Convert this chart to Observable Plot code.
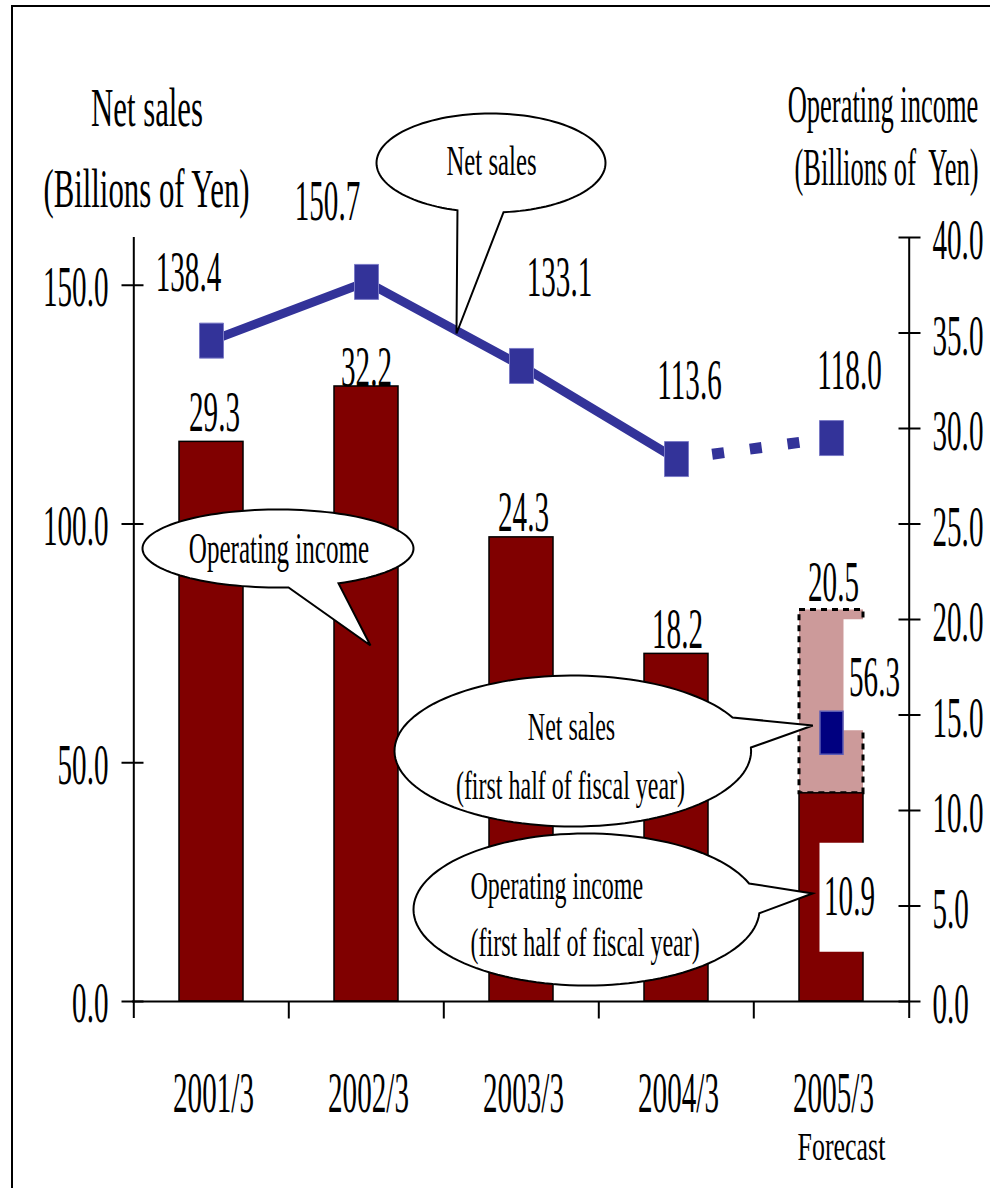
<!DOCTYPE html>
<html><head><meta charset="utf-8">
<script src="https://cdn.jsdelivr.net/npm/d3@7"></script>
<script src="https://cdn.jsdelivr.net/npm/@observablehq/plot@0.6"></script>
<style>
html,body{margin:0;padding:0;background:#fff;overflow:hidden}
#chart{position:absolute;left:0;top:0}
#frame{position:absolute;left:11px;top:5px;width:2000px;height:2000px;border-left:2px solid #000;border-top:2px solid #000;pointer-events:none}
</style></head><body>
<div id="chart"></div><div id="frame"></div>
<script>
// ---------- data ----------
const categories = ["2001/3", "2002/3", "2003/3", "2004/3", "2005/3"];
const netSales = [138.4, 150.7, 133.1, 113.6, 118.0];          // billions of yen (left axis)
const operatingIncome = [29.3, 32.2, 24.3, 18.2, 20.5];        // billions of yen (right axis)
const forecastCategory = "2005/3";
const netSalesFirstHalf = 56.3;
const operatingIncomeFirstHalf = 10.9;
const leftTicks = [0, 50, 100, 150];
const rightTicks = [0, 5, 10, 15, 20, 25, 30, 35, 40];
const leftDomain = [0, 160];
const rightDomain = [0, 40];
const leftTitle = ["Net sales", "(Billions of Yen)"];
const rightTitle = ["Operating income", "(Billions of\u00a0 Yen)"];
const forecastNote = "Forecast";
const bubbleTexts = {
  sales: "Net sales",
  income: "Operating income",
  salesH1: ["Net sales", "(first half of fiscal year)"],
  incomeH1: ["Operating income", "(first half of fiscal year)"]
};

// ---------- layout & style ----------
const W = 990, H = 1188, mL = 132, mR = 81, mT = 237, mB = 187;
const step = (W - mL - mR) / categories.length;
const ratio = leftDomain[1] / rightDomain[1];
const fmt = d3.format(".1f");
const FONT = "'Liberation Serif', 'Times New Roman', serif";
const DARKRED = "#800000", PINK = "#CC9A9A", BLUE = "#333399", NAVY = "#000080";

// font sizes (each size also keys a horizontal condensing factor below)
const FS = {num: 56, titleL: 55.5, titleR: 52, b1: 42, b2: 44, b34: 40, fc: 40.5};
const SQUEEZE = {56: 0.52, 55.5: 0.555, 52: 0.51, 42: 0.59, 44: 0.57, 40: 0.6, 40.5: 0.64};

const salesLabelDx = [-23, -39, 38, 13, 18];
const salesLabelDy = [-68, -80, -88, -78, -67];
const incomeLabelDx = [3, 0, 2, 1, 2];
const incomeLabelDy = [-29, -18, -24, -24, -27];

const rows = categories.map((c, i) => ({cat: c, sales: netSales[i], op: operatingIncome[i], i}));
const actual = rows.filter(d => d.cat !== forecastCategory);
const fc = rows.find(d => d.cat === forecastCategory);

// custom symbols
const sym = draw => ({draw});
const hTick = sym(c => { c.moveTo(-11, 0); c.lineTo(11, 0); });
const vTick = sym(c => { c.moveTo(0, 0); c.lineTo(0, 17); });
const boxSym = (w, h) => sym(c => { c.rect(-w / 2, -h / 2, w, h); });
const bubbleSym = (rx, ry, t0, t1, tx, ty) => sym(c => {
  c.moveTo(tx, ty);
  const n = 120, end = t1 + 2 * Math.PI;
  for (let k = 0; k <= n; k++) {
    const t = t0 + (end - t0) * k / n;
    c.lineTo(rx * Math.cos(t), ry * Math.sin(t));
  }
  c.closePath();
});

const txt = (o) => ({fill: "black", ...o});

const marks = [
  // bars (operating income, scaled onto left axis)
  Plot.barY(actual, {x: "cat", y: d => d.op * ratio, fill: DARKRED, stroke: "black", strokeWidth: 1.5}),
  Plot.barY([fc], {x: "cat", y1: () => operatingIncomeFirstHalf * ratio, y2: d => d.op * ratio,
    fill: PINK, stroke: "black", strokeWidth: 3, strokeDasharray: "6,5"}),
  Plot.barY([fc], {x: "cat", y: () => operatingIncomeFirstHalf * ratio, fill: DARKRED, stroke: "black", strokeWidth: 1.5}),

  // white label backgrounds on forecast bar
  Plot.dot([netSalesFirstHalf], {x: () => forecastCategory, y: d => d, dx: 41, dy: -58,
    symbol: boxSym(58, 111), fill: "white", stroke: "none"}),
  Plot.dot([operatingIncomeFirstHalf], {x: () => forecastCategory, y: d => d * ratio, dx: 29, dy: 104,
    symbol: boxSym(82, 109), fill: "white", stroke: "none"}),

  // axes lines
  Plot.ruleY([0], {stroke: "black", strokeWidth: 2}),
  Plot.ruleX([categories[0]], {x: d => d, dx: -step / 2, insetBottom: -17, stroke: "black", strokeWidth: 2}),
  Plot.ruleX([categories[categories.length - 1]], {x: d => d, dx: step / 2, insetBottom: -17, stroke: "black", strokeWidth: 2}),
  Plot.dot(leftTicks, {y: d => d, frameAnchor: "left", symbol: hTick, fill: "none", stroke: "black", strokeWidth: 2}),
  Plot.dot(rightTicks, {y: d => d * ratio, frameAnchor: "right", symbol: hTick, fill: "none", stroke: "black", strokeWidth: 2}),
  Plot.dot(categories.slice(1), {x: d => d, y: () => 0, dx: -step / 2, symbol: vTick, fill: "none", stroke: "black", strokeWidth: 2}),

  // net sales line
  Plot.line(rows.slice(0, 4), {x: "cat", y: "sales", stroke: BLUE, strokeWidth: 9}),
  Plot.line(rows.slice(3, 5), {x: "cat", y: "sales", stroke: BLUE, strokeWidth: 11,
    strokeLinecap: "butt", strokeDasharray: "12,26", strokeDashoffset: 2}),
  Plot.dot(rows, {x: "cat", y: "sales", symbol: boxSym(24, 35), fill: BLUE, stroke: "#7a7ac6", strokeWidth: 1}),
  Plot.dot([netSalesFirstHalf], {x: () => forecastCategory, y: d => d, symbol: boxSym(23, 43), fill: NAVY, stroke: "#5c5cb4", strokeWidth: 1.5}),

  // bubbles
  Plot.dot([0], {frameAnchor: "top-left", dx: 490.5 - mL, dy: 162.5 - mT,
    symbol: bubbleSym(114.5, 49.5, 1.868, 1.461, -34.5, 170.5), fill: "white", stroke: "black", strokeWidth: 2}),
  Plot.dot([0], {frameAnchor: "top-left", dx: 277.5 - mL, dy: 548 - mT,
    symbol: bubbleSym(135.5, 39, 1.493, 1.108, 92.5, 97), fill: "white", stroke: "black", strokeWidth: 2}),
  Plot.dot([0], {frameAnchor: "top-left", dx: 572.3 - mL, dy: 750.5 - mT,
    symbol: bubbleSym(178.3, 75.5, -0.046, -0.46, 240, -25.5), fill: "white", stroke: "black", strokeWidth: 2}),
  Plot.dot([0], {frameAnchor: "top-left", dx: 586 - mL, dy: 909 - mT,
    symbol: bubbleSym(173, 76, 0.05, -0.349, 226, -16), fill: "white", stroke: "black", strokeWidth: 2}),

  // bubble texts
  Plot.text([bubbleTexts.sales], txt({frameAnchor: "top-left", textAnchor: "middle", lineAnchor: "middle",
    dx: 491 - mL, dy: 161 - mT, fontSize: FS.b1})),
  Plot.text([bubbleTexts.income], txt({frameAnchor: "top-left", textAnchor: "middle", lineAnchor: "middle",
    dx: 278.5 - mL, dy: 548 - mT, fontSize: FS.b2})),
  Plot.text([bubbleTexts.salesH1[0]], txt({frameAnchor: "top-left", textAnchor: "middle", lineAnchor: "middle",
    dx: 571 - mL, dy: 727 - mT, fontSize: FS.b34})),
  Plot.text([bubbleTexts.salesH1[1]], txt({frameAnchor: "top-left", textAnchor: "middle", lineAnchor: "middle",
    dx: 570 - mL, dy: 786 - mT, fontSize: FS.b34})),
  Plot.text([bubbleTexts.incomeH1[0]], txt({frameAnchor: "top-left", textAnchor: "start", lineAnchor: "middle",
    dx: 470 - mL, dy: 886 - mT, fontSize: FS.b34})),
  Plot.text([bubbleTexts.incomeH1[1]], txt({frameAnchor: "top-left", textAnchor: "start", lineAnchor: "middle",
    dx: 470 - mL, dy: 943 - mT, fontSize: FS.b34})),

  // value labels
  ...rows.map(d => Plot.text([d], txt({x: "cat", y: "sales", text: r => fmt(r.sales),
    dx: salesLabelDx[d.i], dy: salesLabelDy[d.i], fontSize: FS.num}))),
  ...rows.map(d => Plot.text([d], txt({x: "cat", y: r => r.op * ratio, text: r => fmt(r.op),
    dx: incomeLabelDx[d.i], dy: incomeLabelDy[d.i], fontSize: FS.num}))),
  Plot.text([netSalesFirstHalf], txt({x: () => forecastCategory, y: d => d, text: d => fmt(d),
    dx: 43, dy: -55, fontSize: FS.num})),
  Plot.text([operatingIncomeFirstHalf], txt({x: () => forecastCategory, y: d => d * ratio, text: d => fmt(d),
    dx: 18, dy: 104, fontSize: FS.num})),

  // tick labels
  Plot.text(leftTicks, txt({y: d => d, text: d => fmt(d), frameAnchor: "left", textAnchor: "end",
    lineAnchor: "middle", dx: -24, dy: 3, fontSize: FS.num})),
  Plot.text(rightTicks, txt({y: d => d * ratio, text: d => fmt(d), frameAnchor: "right", textAnchor: "start",
    lineAnchor: "middle", dx: 23, dy: 4, fontSize: FS.num})),
  Plot.text(categories, txt({x: d => d, text: d => d, frameAnchor: "bottom", lineAnchor: "middle",
    dx: 2, dy: 93, fontSize: FS.num})),
  Plot.text([forecastNote], txt({x: () => forecastCategory, frameAnchor: "bottom", lineAnchor: "middle",
    dx: 10, dy: 146, fontSize: FS.fc})),

  // axis titles
  Plot.text([leftTitle[0]], txt({frameAnchor: "top-left", textAnchor: "middle", lineAnchor: "middle",
    dx: 146.5 - mL, dy: 108 - mT, fontSize: FS.titleL})),
  Plot.text([leftTitle[1]], txt({frameAnchor: "top-left", textAnchor: "middle", lineAnchor: "middle",
    dx: 146 - mL, dy: 189 - mT, fontSize: FS.titleL})),
  Plot.text([rightTitle[0]], txt({frameAnchor: "top-right", textAnchor: "middle", lineAnchor: "middle",
    dx: 882.5 - (W - mR), dy: 105 - mT, fontSize: FS.titleR})),
  Plot.text([rightTitle[1]], txt({frameAnchor: "top-right", textAnchor: "middle", lineAnchor: "middle",
    dx: 886 - (W - mR), dy: 168 - mT, fontSize: FS.titleR}))
];

const chart = Plot.plot({
  width: W, height: H,
  marginLeft: mL, marginRight: mR, marginTop: mT, marginBottom: mB,
  x: {type: "band", domain: categories, paddingInner: 0.59, paddingOuter: 0.295, axis: null},
  y: {domain: leftDomain, axis: null},
  style: {fontFamily: FONT, background: "white", overflow: "visible"},
  marks
});
document.getElementById("chart").appendChild(chart);

// horizontally condense the serif text to match the reference's narrow lettering
chart.querySelectorAll("text").forEach(t => {
  let node = t, fsAttr = null;
  while (node && node !== chart) {
    if (node.getAttribute && node.getAttribute("font-size")) { fsAttr = node.getAttribute("font-size"); break; }
    node = node.parentNode;
  }
  const k = SQUEEZE[parseFloat(fsAttr)];
  if (!k) return;
  const natural = t.getComputedTextLength();
  if (!(natural > 0)) return;
  t.setAttribute("textLength", (natural * k).toFixed(2));
  t.setAttribute("lengthAdjust", "spacingAndGlyphs");
});
</script>
</body></html>
